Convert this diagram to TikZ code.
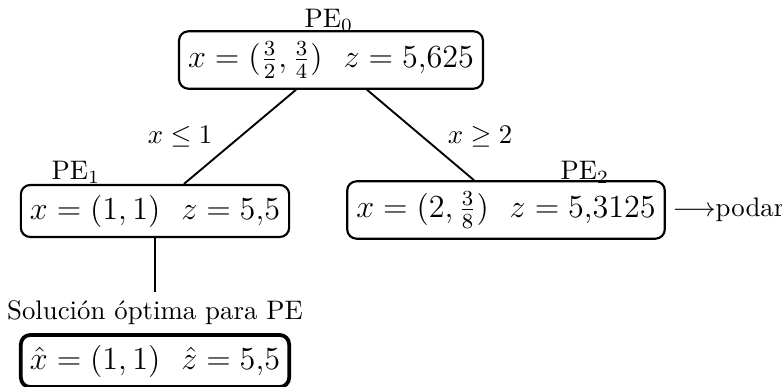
\documentclass[tikz,border=0pt]{standalone}
\begin{document}
\begin{tikzpicture}[x=0.373pt,y=-0.373pt,
  pebox/.style={draw,rounded corners=3.5pt,line width=0.8pt,inner xsep=3.4pt,inner ysep=3.7pt,font=\large},
  solbox/.style={pebox,line width=1.4pt},
  edge/.style={line width=0.7pt},
  lbl/.style={inner sep=1pt}]
\useasboundingbox (0,0) rectangle (782,387);
\node[pebox] (pe0) at (331,60) {$x=(\frac{3}{2},\frac{3}{4})\ \ z=5{,}625$};
\node[pebox] (pe1) at (155,211) {$x=(1,1)\ \ z=5{,}5$};
\node[pebox] (pe2) at (506,210) {$x=(2,\frac{3}{8})\ \ z=5{,}3125$};
\node[solbox] (sol) at (155,361) {$\hat{x}=(1,1)\ \ \hat{z}=5{,}5$};
\node[lbl] (l0) at (329,20) {PE$_0$};
\node[lbl] (l1) at (76,172) {PE$_1$};
\node[lbl] (l2) at (585,172) {PE$_2$};
\node[lbl] (c1) at (180,137) {$x\leq 1$};
\node[lbl] (c2) at (480,137) {$x\geq 2$};
\node[lbl,inner sep=3pt] (opt) at (155,313) {Solución óptima para PE};
\node[lbl,anchor=west,inner sep=0pt] (podar) at (672,210) {$\longrightarrow$podar};
\draw[edge] ([xshift=-35*0.373pt]pe0.south) -- ([xshift=29*0.373pt]pe1.north);
\draw[edge] ([xshift=36*0.373pt]pe0.south) -- ([xshift=-32*0.373pt]pe2.north);
\draw[edge] (pe1.south) -- (opt.north);
\draw[edge] (opt.south) -- (sol.north);
\end{tikzpicture}
\end{document}
